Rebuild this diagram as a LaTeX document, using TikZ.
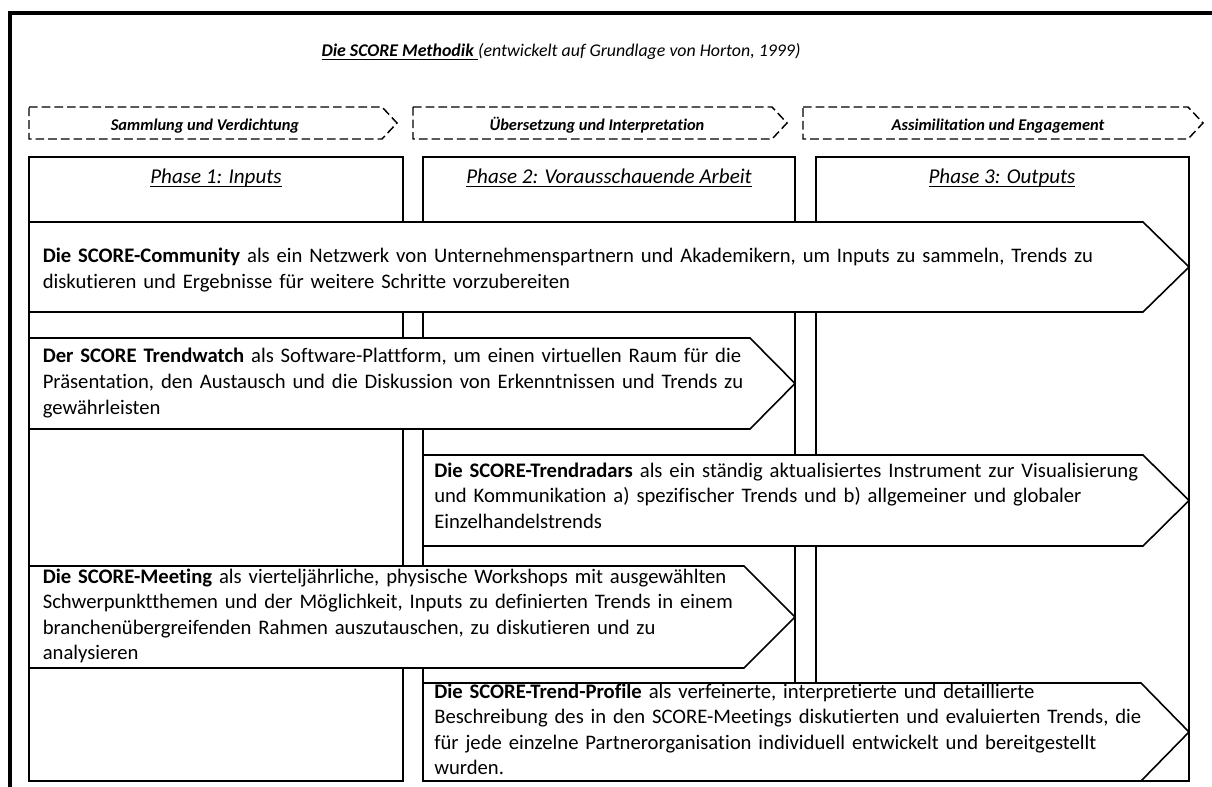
\documentclass[tikz,border=0pt]{standalone}
\usepackage{fontspec}
\setmainfont{Carlito}[Ligatures=NoCommon]
\newcommand{\myul}[1]{\setbox0\hbox{#1}\rlap{\rule[-2.6pt]{\wd0}{0.8pt}}\box0}
\tikzset{
  frame/.style={line width=3pt, line cap=butt},
  colbox/.style={draw=black, line width=1.2pt},
  chev/.style={draw=black, fill=white, line width=1.2pt, line join=miter},
  dchev/.style={draw=black, line width=1.1pt, dash pattern=on 6.5pt off 3pt},
  body/.style={anchor=base west, inner sep=0pt, text width=1000pt, align=left,
    font=\fontsize{15.5pt}{19.2pt}\selectfont},
  phase/.style={anchor=base, inner sep=0pt, font=\fontsize{15.8pt}{18pt}\selectfont\itshape},
  stage/.style={anchor=base, inner sep=0pt, font=\fontsize{12.3pt}{14pt}\selectfont\bfseries\itshape},
}
\begin{document}
\begin{tikzpicture}[x=0.75pt, y=-0.75pt]
\useasboundingbox (0,0) rectangle (1212,787);
% outer frame (partly visible)
\draw[frame] (10.3,787) -- (10.3,13) -- (1212,13);
% title
\node[anchor=base, inner sep=0pt, font=\fontsize{13.4pt}{16pt}\selectfont] (title) at (561,57)
  {\myul{\textbf{\textit{Die SCORE Methodik }}}\textit{(entwickelt auf Grundlage von Horton, 1999)}};
% dashed stage chevrons
\draw[dchev] (29,107) -- (382,107) -- (397,123) -- (382,139) -- (29,139) -- cycle;
\draw[dchev] (413,107) -- (772,107) -- (787,123) -- (772,139) -- (413,139) -- cycle;
\draw[dchev] (803,107) -- (1188,107) -- (1203,123) -- (1188,139) -- (803,139) -- cycle;
\node[stage] (s1) at (205,131) {Sammlung und Verdichtung};
\node[stage] (s2) at (597,131) {Übersetzung und Interpretation};
\node[stage] (s3) at (998,131) {Assimilitation und Engagement};
% phase columns
\draw[colbox] (29,157) rectangle (403,781);
\draw[colbox] (423,157) rectangle (795,781);
\draw[colbox] (816,157) rectangle (1189,781);
\node[phase] (p1) at (216,184) {\myul{Phase 1: Inputs}};
\node[phase] (p2) at (609,184) {\myul{Phase 2: Vorausschauende Arbeit}};
\node[phase] (p3) at (1002,184) {\myul{Phase 3: Outputs}};
% element chevrons
\draw[chev] (29,222) -- (1143,222) -- (1189,267) -- (1143,312) -- (29,312) -- cycle;
\node[body] (c1) at (42.5,263) {\textbf{Die SCORE-Community} als ein Netzwerk von Unternehmenspartnern und Akademikern, um Inputs zu sammeln, Trends zu\\diskutieren und Ergebnisse für weitere Schritte vorzubereiten};
\draw[chev] (29,338) -- (750,338) -- (795,383.5) -- (750,429) -- (29,429) -- cycle;
\node[body] (c2) at (42.5,363) {\textbf{Der SCORE Trendwatch} als Software-Plattform, um einen virtuellen Raum für die\\Präsentation, den Austausch und die Diskussion von Erkenntnissen und Trends zu\\gewährleisten};
\draw[chev] (423,455) -- (1143,455) -- (1189,500.5) -- (1143,546) -- (423,546) -- cycle;
\node[body] (c3) at (434,477) {\textbf{Die SCORE-Trendradars} als ein ständig aktualisiertes Instrument zur Visualisierung\\und Kommunikation a) spezifischer Trends und b) allgemeiner und globaler\\Einzelhandelstrends};
\draw[chev] (29,566) -- (744,566) -- (795,617) -- (744,668) -- (29,668) -- cycle;
\node[body] (c4) at (42.5,583) {\textbf{Die SCORE-Meeting} als vierteljährliche, physische Workshops mit ausgewählten\\Schwerpunktthemen und der Möglichkeit, Inputs zu definierten Trends in einem\\branchenübergreifenden Rahmen auszutauschen, zu diskutieren und zu\\analysieren};
\draw[chev] (423,683) -- (1141,683) -- (1189,732) -- (1141,781) -- (423,781) -- cycle;
\node[body] (c5) at (434,698) {\textbf{Die SCORE-Trend-Profile} als verfeinerte, interpretierte und detaillierte\\Beschreibung des in den SCORE-Meetings diskutierten und evaluierten Trends, die\\für jede einzelne Partnerorganisation individuell entwickelt und bereitgestellt\\wurden.};
\end{tikzpicture}
\end{document}
